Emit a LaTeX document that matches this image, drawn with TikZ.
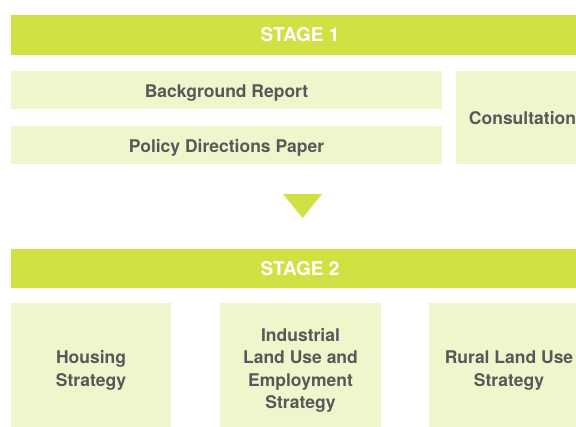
\documentclass[tikz,border=0pt]{standalone}
\usepackage{fontspec}
\setmainfont{TeX Gyre Heros}
\definecolor{barGreen}{HTML}{D1E043}
\definecolor{lightGreen}{HTML}{F0F6CC}
\definecolor{txtGray}{HTML}{58585A}
\tikzset{
  stagebar/.style={fill=barGreen, text=white, inner sep=0pt, minimum width=578pt, minimum height=40pt,
    text height=13.4pt, text depth=0pt, font=\fontsize{19}{22}\selectfont\bfseries},
  docbox/.style={fill=lightGreen, text=txtGray, inner sep=0pt, align=center,
    font=\fontsize{17.5}{22}\selectfont\bfseries},
  oneline/.style={text height=14.4pt, text depth=0pt},
  blankbox/.style={fill=lightGreen, inner sep=0pt},
  boxtext/.style={text=txtGray, inner sep=0pt, align=center, font=\fontsize{17.5}{22.3}\selectfont\bfseries},
}
\begin{document}
\begin{tikzpicture}[x=1pt,y=1pt]
\path[use as bounding box, clip] (0,0) rectangle (576,426);
\fill[white] (0,0) rectangle (576,426);
\node[stagebar] (s1) at (300,391) {STAGE 1};
\node[docbox, oneline, minimum width=431pt, minimum height=38pt] (bg) at (226.5,336) {Background Report};
\node[docbox, oneline, minimum width=431pt, minimum height=38pt] (pdp) at (226.5,281) {Policy Directions Paper};
\node[docbox, oneline, minimum width=133pt, minimum height=93pt] (cons) at (522.5,308.5) {Consultation};
\coordinate (tl) at (283,232);
\coordinate (tr) at (322,232);
\coordinate (tb) at (302.5,208);
\fill[barGreen] (tl) -- (tr) -- (tb) -- cycle;
\node[stagebar, minimum height=39pt] (s2) at (300,157.5) {STAGE 2};
\node[blankbox, minimum width=160pt, minimum height=131pt] (hs) at (91,57.5) {};
\node[blankbox, minimum width=161pt, minimum height=131pt] (ind) at (300.5,57.5) {};
\node[blankbox, minimum width=160pt, minimum height=131pt] (rur) at (509,57.5) {};
\node[boxtext] (hsT) at (91,55.5) {Housing\\Strategy};
\node[boxtext] (indT) at (300.5,55.5) {Industrial\\Land Use and\\Employment\\Strategy};
\node[boxtext] (rurT) at (509,55.5) {Rural Land Use\\Strategy};
\end{tikzpicture}
\end{document}
